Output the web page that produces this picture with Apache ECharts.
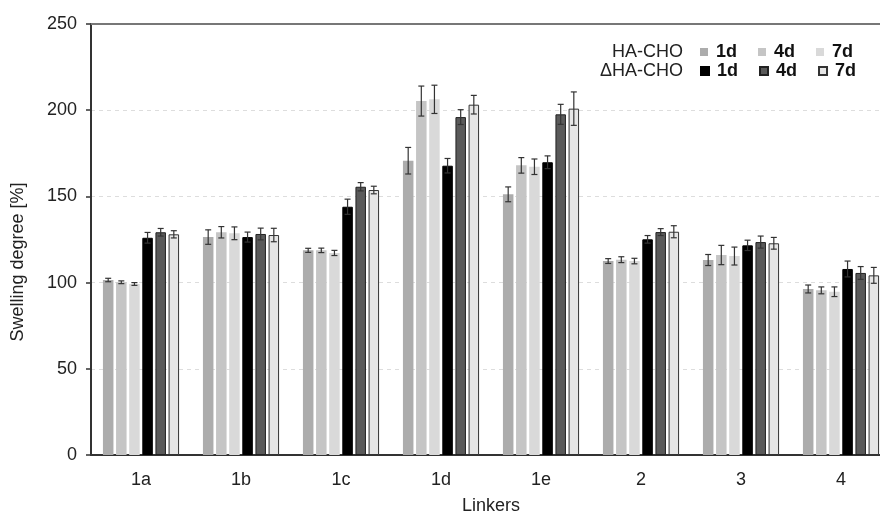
<!DOCTYPE html>
<html>
<head>
<meta charset="utf-8">
<script src="https://cdn.jsdelivr.net/npm/echarts@6/dist/echarts.min.js"></script>
<style>html,body{margin:0;padding:0;background:#fff;}#c{width:880px;height:512px;}</style>
</head>
<body>
<div id="c"></div>
<script>
var categories = ['1a','1b','1c','1d','1e','2','3','4'];
var yTicks = [0,50,100,150,200,250];

var ha1d    = [101.5,126.4,118.7,170.7,151.2,112.5,113.1,96.3];
var ha1dErr = [1.0,4.2,1.2,7.7,4.3,1.4,3.2,2.3];
var ha4d    = [100.2,129.2,118.7,205.3,168.0,113.3,116.0,95.5];
var ha4dErr = [0.8,3.3,1.3,8.7,4.5,1.7,5.6,2.0];
var ha7d    = [99.2,128.6,117.2,206.3,167.2,112.5,115.4,94.7];
var ha7dErr = [0.8,3.7,1.5,8.2,4.5,1.6,5.2,2.8];
var d1d     = [126.0,126.4,144.0,167.8,169.8,125.1,121.6,107.9];
var d1dErr  = [3.1,2.9,4.4,4.2,3.7,2.2,3.0,4.6];
var d4d     = [129.2,128.2,155.6,196.0,197.6,129.3,123.5,105.6];
var d4dErr  = [2.2,3.4,2.4,4.3,5.8,2.0,3.5,3.7];
var d7d     = [128.0,127.6,153.7,203.2,200.9,129.5,122.8,104.2];
var d7dErr  = [2.1,3.9,2.2,5.4,9.7,3.5,3.4,4.6];

var FONT = "'Liberation Sans', Arial, sans-serif";
var BAR_W = 10.5;
var GAP_PCT = 25;
var pitch = BAR_W * (1 + GAP_PCT / 100);

var seriesDefs = [
  {name:'HA 1d', data:ha1d, err:ha1dErr, style:{color:'#acacac'}},
  {name:'HA 4d', data:ha4d, err:ha4dErr, style:{color:'#c5c5c5'}},
  {name:'HA 7d', data:ha7d, err:ha7dErr, style:{color:'#d9d9d9'}},
  {name:'D 1d', data:d1d, err:d1dErr, style:{color:'#000000', borderColor:'#000000', borderWidth:1}},
  {name:'D 4d', data:d4d, err:d4dErr, style:{color:'#5a5a5a', borderColor:'#222222', borderWidth:1}},
  {name:'D 7d', data:d7d, err:d7dErr, style:{color:'#e6e6e6', borderColor:'#333333', borderWidth:1}}
];

var series = [];
seriesDefs.forEach(function(s){
  series.push({
    name: s.name, type:'bar', data: s.data,
    barWidth: BAR_W, barGap: GAP_PCT + '%',
    itemStyle: s.style, z: 2,
    emphasis: {disabled:true}
  });
});
seriesDefs.forEach(function(s, si){
  var errData = s.data.map(function(v, i){ return [i, v, s.err[i]]; });
  series.push({
    type:'custom', name: s.name + ' err', z: 5,
    data: errData,
    renderItem: function(params, api){
      var idx = api.value(0), v = api.value(1), e = api.value(2);
      var off = (si - 2.5) * pitch;
      var hi = api.coord([idx, v + e]);
      var lo = api.coord([idx, v - e]);
      var x = hi[0] + off;
      var cap = 3;
      var st = {stroke:'#333333', lineWidth:1.2};
      return {type:'group', children:[
        {type:'line', shape:{x1:x, y1:hi[1], x2:x, y2:lo[1]}, style:st},
        {type:'line', shape:{x1:x-cap, y1:hi[1], x2:x+cap, y2:hi[1]}, style:st},
        {type:'line', shape:{x1:x-cap, y1:lo[1], x2:x+cap, y2:lo[1]}, style:st}
      ]};
    }
  });
});

function legendFmt(n){ return n.split(' ')[1]; }
var legendText = {fontFamily:FONT, fontSize:18, fontWeight:'bold', color:'#111', padding:[0,0,0,3]};

var chart = echarts.init(document.getElementById('c'), null, {renderer:'canvas'});
chart.setOption({
  backgroundColor:'#fff',
  animation:false,
  grid:{left:91, top:24, width:800, height:431, containLabel:false, outerBoundsMode:'none'},
  legend:[
    {data:['HA 1d','HA 4d','HA 7d'], left:700, top:43, padding:0, itemWidth:8, itemHeight:8, itemGap:21, icon:'rect',
     formatter:legendFmt, textStyle:legendText, selectedMode:false},
    {data:['D 1d','D 4d','D 7d'], left:700, top:62, padding:0, itemWidth:8, itemHeight:8, itemGap:21, icon:'rect',
     formatter:legendFmt, textStyle:legendText, selectedMode:false}
  ],
  graphic:[
    {type:'text', x:683, y:52, style:{text:'HA-CHO', font:'18px ' + FONT, fill:'#222', textAlign:'right', textVerticalAlign:'middle'}},
    {type:'text', x:683, y:71, style:{text:'\u0394HA-CHO', font:'18px ' + FONT, fill:'#222', textAlign:'right', textVerticalAlign:'middle'}},
    {type:'text', rotation:Math.PI/2, x:18, y:262, style:{text:'Swelling degree [%]', font:'18px ' + FONT, fill:'#222', textAlign:'center', textVerticalAlign:'middle'}}
  ],
  xAxis:[
    {type:'category', data:categories, position:'bottom',
     axisLine:{show:true, lineStyle:{color:'#333', width:2}},
     axisTick:{show:false},
     axisLabel:{fontFamily:FONT, fontSize:18, color:'#222', margin:16},
     name:'Linkers', nameLocation:'middle', nameGap:42,
     nameTextStyle:{fontFamily:FONT, fontSize:18, color:'#222'}
    },
    {type:'category', data:categories, position:'top',
     axisLine:{show:true, lineStyle:{color:'#777', width:2}},
     axisTick:{show:false}, axisLabel:{show:false}}
  ],
  yAxis:{type:'value', min:0, max:250, interval:50,
    axisLine:{show:true, lineStyle:{color:'#333', width:2}},
    axisTick:{show:true, length:5, lineStyle:{color:'#333', width:1.5}},
    axisLabel:{fontFamily:FONT, fontSize:18, color:'#222', margin:14,
      formatter:function(v){ return yTicks.indexOf(v) >= 0 ? String(v) : ''; }},
    splitLine:{show:true, lineStyle:{color:'#dddddd', type:[4,4], width:1}}
  },
  series: series
});
</script>
</body>
</html>
